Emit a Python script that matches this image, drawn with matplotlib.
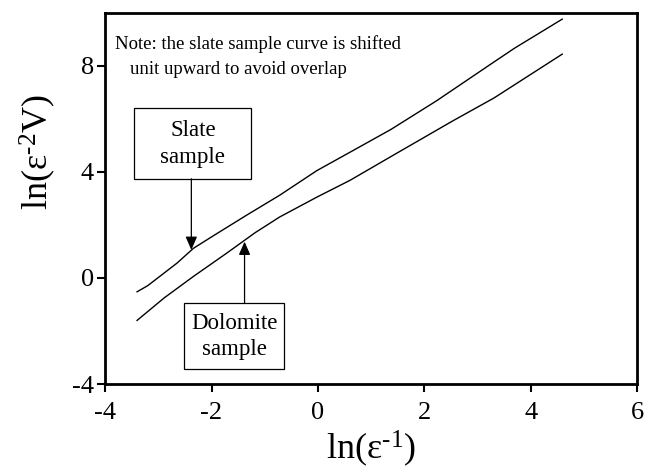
import numpy as np
import matplotlib.pyplot as plt
from matplotlib.patches import Rectangle

plt.rcParams['font.family'] = ['Liberation Serif', 'DejaVu Serif']
plt.rcParams['mathtext.fontset'] = 'custom'
plt.rcParams['mathtext.rm'] = 'Liberation Serif'
plt.rcParams['mathtext.it'] = 'Liberation Serif'
plt.rcParams['axes.unicode_minus'] = False

# curves: ln(eps^-1) vs ln(eps^-2 V)
slate_x = [-3.40, -3.20, -2.65, -2.34, -1.96, -1.34, -0.72, -0.02, 0.60, 1.37, 2.22, 3.23, 3.69, 4.59]
slate_y = [-0.52, -0.29, 0.56, 1.12, 1.60, 2.37, 3.12, 4.05, 4.74, 5.60, 6.67, 8.04, 8.66, 9.76]

dolo_x = [-3.40, -2.89, -2.34, -1.72, -1.18, -0.72, -0.02, 0.60, 1.45, 2.53, 3.31, 4.59]
dolo_y = [-1.60, -0.75, 0.06, 0.93, 1.71, 2.30, 3.05, 3.68, 4.67, 5.92, 6.79, 8.44]

x_ticks = [-4, -2, 0, 2, 4, 6]
y_ticks = [-4, 0, 4, 8]

fig = plt.figure(figsize=(6.45, 4.73), dpi=100)
ax = fig.add_axes([0.163, 0.188, 0.825, 0.785])

ax.plot(slate_x, slate_y, color='black', lw=1.0)
ax.plot(dolo_x, dolo_y, color='black', lw=1.0)

ax.set_xlim(-4, 6)
ax.set_ylim(-4, 10)
ax.set_xticks(x_ticks)
ax.set_yticks(y_ticks)
ax.tick_params(direction='out', length=6, width=1.5, labelsize=19)
ax.tick_params(axis='x', pad=7)
ax.tick_params(axis='y', pad=2)
for s in ax.spines.values():
    s.set_linewidth(2)

ax.set_xlabel('ln(\u03b5$^{\u2010\\mathregular{1}}$)', fontsize=26, labelpad=3)
ax.set_ylabel('ln(\u03b5$^{\u2010\\mathregular{2}}$V)', fontsize=26)
ax.yaxis.set_label_coords(-0.088, 0.625)

# note
ax.text(-3.81, 8.81, 'Note: the slate sample curve is shifted', fontsize=13.5, va='center', ha='left')
ax.text(-3.54, 7.85, 'unit upward to avoid overlap', fontsize=13.5, va='center', ha='left')

# label boxes
ax.add_patch(Rectangle((-3.46, 3.74), 2.21, 2.68, fill=False, lw=0.9, ec='black'))
ax.text(-2.35, 5.05, 'Slate\nsample', fontsize=16.5, ha='center', va='center', linespacing=1.35)
ax.add_patch(Rectangle((-2.51, -3.43), 1.88, 2.47, fill=False, lw=0.9, ec='black'))
ax.text(-1.57, -2.2, 'Dolomite\nsample', fontsize=16.5, ha='center', va='center', linespacing=1.35)

arrow = dict(arrowstyle='-|>,head_length=0.8,head_width=0.35', color='black', lw=0.9, shrinkA=0, shrinkB=0)
ax.annotate('', xy=(-2.38, 1.06), xytext=(-2.38, 3.74), arrowprops=arrow)
ax.annotate('', xy=(-1.38, 1.37), xytext=(-1.38, -0.96), arrowprops=arrow)

fig.savefig('out.png', dpi=100)
